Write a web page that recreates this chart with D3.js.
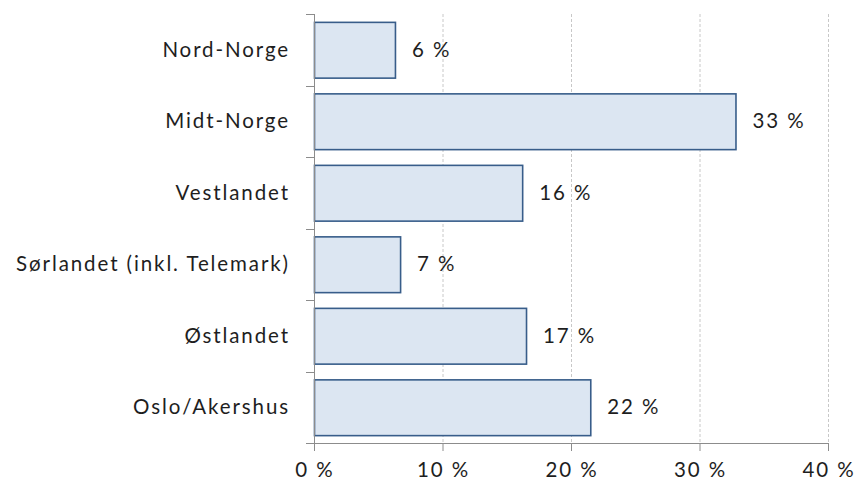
<!DOCTYPE html>
<html><head><meta charset="utf-8">
<script src="https://cdn.jsdelivr.net/npm/d3@7"></script>
<style>body{margin:0;background:#fff}svg{display:block}</style>
</head><body>
<svg id="c" width="857" height="486"></svg>
<script>
const categories = ["Nord-Norge","Midt-Norge","Vestlandet","Sørlandet (inkl. Telemark)","Østlandet","Oslo/Akershus"];
const values = [6.3, 32.8, 16.2, 6.7, 16.5, 21.5];
const valueLabels = ["6 %","33 %","16 %","7 %","17 %","22 %"];
const xTicks = [0,10,20,30,40];
const xTickLabels = ["0 %","10 %","20 %","30 %","40 %"];

(function(){
const svg = d3.select("#c");
const font = "Lato, 'Open Sans', sans-serif";
const fs = 20.5, ls = 1.9;
const L = 314, R = 828, T = 14, B = 443;
const x = d3.scaleLinear().domain([0,40]).range([L,R]);
const y = d3.scaleBand().domain(categories).range([T,B]).paddingInner(0.22).paddingOuter(0.11);

function styleText(sel){
  return sel.attr("font-family",font).attr("font-size",fs).attr("letter-spacing",ls).attr("fill","#1e1e1e");
}

svg.append("g").selectAll("line").data(xTicks.slice(1)).join("line")
  .attr("x1",d=>x(d)+0.5).attr("x2",d=>x(d)+0.5).attr("y1",T).attr("y2",B)
  .attr("stroke","#c8c8c8").attr("stroke-width",1).attr("stroke-dasharray","3,2");

svg.append("g").selectAll("rect").data(categories).join("rect")
  .attr("x",L+0.5).attr("y",d=>y(d)+0.5)
  .attr("width",(d,i)=>x(values[i])-L).attr("height",y.bandwidth())
  .attr("fill","#dce6f2").attr("stroke","#385d8a").attr("stroke-width",1.6);

svg.append("g").selectAll("text").data(categories).join("text")
  .attr("x",(d,i)=>x(values[i])+17).attr("y",d=>y(d)+y.bandwidth()/2)
  .attr("dy","0.35em").call(styleText)
  .text((d,i)=>valueLabels[i]);

const yEdges = d3.range(categories.length+1).map(i=>T+i*(B-T)/categories.length);
const ax = svg.append("g").attr("stroke","#8c8c8c").attr("stroke-width",1);
ax.append("line").attr("x1",L+0.5).attr("x2",L+0.5).attr("y1",T).attr("y2",B);
ax.selectAll(".yt").data(yEdges).join("line").attr("class","yt")
  .attr("x1",L-8).attr("x2",L).attr("y1",d=>Math.round(d)+0.5).attr("y2",d=>Math.round(d)+0.5);
ax.append("line").attr("x1",L).attr("x2",R+1).attr("y1",B+0.5).attr("y2",B+0.5);
ax.selectAll(".xt").data(xTicks).join("line").attr("class","xt")
  .attr("x1",d=>x(d)+0.5).attr("x2",d=>x(d)+0.5).attr("y1",B).attr("y2",B+8);

svg.append("g").selectAll("text").data(categories).join("text")
  .attr("x",290).attr("y",d=>y(d)+y.bandwidth()/2).attr("dy","0.35em")
  .attr("text-anchor","end").call(styleText)
  .text(d=>d);

svg.append("g").selectAll("text").data(xTicks).join("text")
  .attr("x",d=>x(d)+ls/2).attr("y",470).attr("dy","0.35em").attr("text-anchor","middle")
  .call(styleText)
  .text((d,i)=>xTickLabels[i]);
})();
</script>
</body></html>
